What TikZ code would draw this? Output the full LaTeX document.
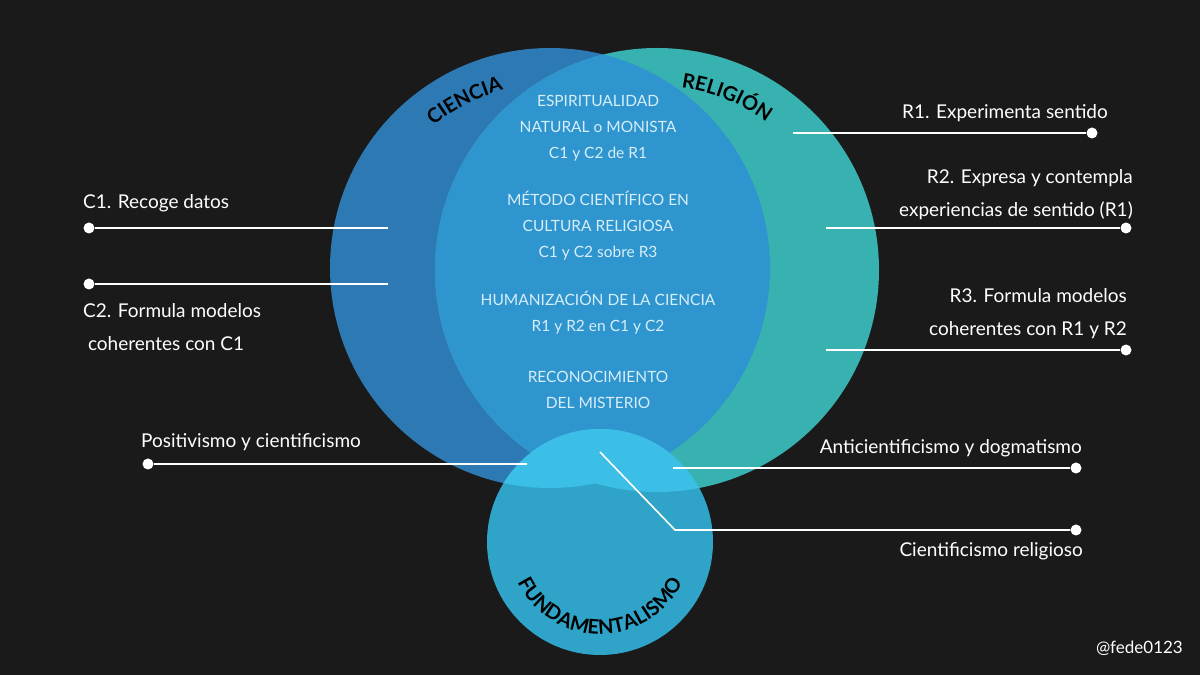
\documentclass[tikz,border=0pt]{standalone}
\usepackage{fontspec}
\setmainfont{Lato}
\usetikzlibrary{decorations.text}
\definecolor{bg}{HTML}{1A1A1A}
\definecolor{cc}{HTML}{2C79B3}
\definecolor{rc}{HTML}{38B2B0}
\definecolor{cr}{HTML}{2F95CF}
\definecolor{fc}{HTML}{30A4C8}
\definecolor{tc}{HTML}{3BBFE6}
\definecolor{inner}{HTML}{D6EEF8}
\begin{document}
\begin{tikzpicture}[x=1pt,y=1pt,
  lab/.style={text=white,font=\fontsize{19}{22}\selectfont,inner sep=0pt},
  mid/.style={text=inner,font=\fontsize{15.5}{26}\selectfont,align=center,inner sep=0pt},
  ln/.style={draw=white,line width=1.6pt},
  dot/.style={circle,fill=white,minimum size=11pt,inner sep=0pt}]
\fill[bg] (0,0) rectangle (1200,675);
\useasboundingbox (0,0) rectangle (1200,675);
\def\Cc{(550,407) circle (220)}
\def\Rc{(657,405) circle (222)}
\def\Fc{(600,133) circle (113)}
\fill[cc] \Cc;
\fill[rc] \Rc;
\begin{scope}\clip \Cc; \fill[cr] \Rc; \end{scope}
\fill[fc] \Fc;
\begin{scope}\clip \Fc; \fill[tc] \Cc; \fill[tc] \Rc; \end{scope}
% titles
\path[decorate,decoration={text along path,text align=center,
  text={|\fontsize{20}{20}\selectfont\bfseries|CIENCIA}}]
  (550,407) ++(142:184) arc (142:92:184);
\path[decorate,decoration={text along path,text align=center,
  text={|\fontsize{20}{20}\selectfont\bfseries|RELIGIÓN}}]
  (657,405) ++(92:184) arc (92:44:184);
\path[decorate,decoration={text along path,text align=center,
  text={|\fontsize{20}{20}\selectfont\bfseries|FUNDAMENTALISMO}}]
  (600,133) ++(185:92) arc (185:355:92);
% centre text
\node[mid] (t1) at (598,547) {ESPIRITUALIDAD\\NATURAL o MONISTA\\C1 y C2 de R1};
\node[mid] (t2) at (598,449) {MÉTODO CIENTÍFICO EN\\CULTURA RELIGIOSA\\C1 y C2 sobre R3};
\node[mid] (t3) at (598,362) {HUMANIZACIÓN DE LA CIENCIA\\R1 y R2 en C1 y C2};
\node[mid] (t4) at (598,285) {RECONOCIMIENTO\\DEL MISTERIO};
% right
\coordinate (r1a) at (793,542); \node[dot] (r1b) at (1092,542) {};
\draw[ln] (r1a) -- (r1b);
\node[lab,anchor=base east] (r1t) at (1108,556) {R1. Experimenta sentido};
\coordinate (r2a) at (826,447); \node[dot] (r2b) at (1126,447) {};
\draw[ln] (r2a) -- (r2b);
\node[lab,anchor=base east] (r2t) at (1133,491) {R2. Expresa y contempla};
\node[lab,anchor=base east] (r2u) at (1133,458) {experiencias de sentido (R1)};
\coordinate (r3a) at (826,325); \node[dot] (r3b) at (1126,325) {};
\draw[ln] (r3a) -- (r3b);
\node[lab,anchor=base east] (r3t) at (1127,372) {R3. Formula modelos};
\node[lab,anchor=base east] (r3u) at (1127,339) {coherentes con R1 y R2};
% left
\node[dot] (c1a) at (89,447) {}; \coordinate (c1b) at (388,447);
\draw[ln] (c1a) -- (c1b);
\node[lab,anchor=base west] (c1t) at (83,466) {C1. Recoge datos};
\node[dot] (c2a) at (89,391) {}; \coordinate (c2b) at (388,391);
\draw[ln] (c2a) -- (c2b);
\node[lab,anchor=base west] (c2t) at (83,357) {C2. Formula modelos};
\node[lab,anchor=base west] (c2u) at (83,324) {\ coherentes con C1};
% lower
\node[dot] (pa) at (148,211) {}; \coordinate (pb) at (527,211);
\draw[ln] (pa) -- (pb);
\node[lab,anchor=base west] (pt) at (141,227) {Positivismo y cientificismo};
\coordinate (aa) at (673,207); \node[dot] (ab) at (1076,207) {};
\draw[ln] (aa) -- (ab);
\node[lab,anchor=base east] (at) at (1082,221) {Anticientificismo y dogmatismo};
\coordinate (ca) at (600,223); \coordinate (cm) at (675,145); \node[dot] (cb) at (1076,145) {};
\draw[ln] (ca) -- (cm) -- (cb);
\node[lab,anchor=base east] (ct) at (1083,118) {Cientificismo religioso};
\node[lab,anchor=base east,font=\fontsize{17}{20}\selectfont] (sig) at (1183,21) {@fede0123};
\end{tikzpicture}
\end{document}
